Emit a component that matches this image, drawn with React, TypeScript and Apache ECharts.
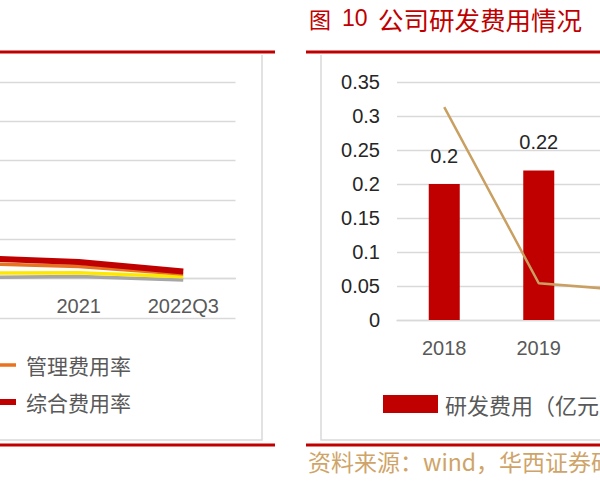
import React, { useEffect, useRef } from "react";
import * as echarts from "echarts";

// ---- data ----
const leftCategories = ["2018", "2019", "2020", "2021", "2022Q3"];
const salesRate = [2.1, 1.8, 1.45, 1.5, 0.5]; // 销售费用率 (yellow)
const financeRate = [0.2, 0.4, 0.3, 0.55, -0.35]; // 财务费用率 (gray)
const adminRate = [6.2, 5.0, 3.87, 3.1, 1.2]; // 管理费用率 (orange)
const totalRate = [8.5, 6.9, 5.26, 4.25, 1.85]; // 综合费用率 (red)

const rdCategories = ["2018", "2019", "2020", "2021", "2022Q3"];
const rdExpense = [0.2, 0.22, 0.2, 0.25, 0.2]; // 研发费用（亿元）
const rdRate = [3.13, 0.54, 0.43, 0.5, 0.6]; // 研发费用率（%）
const rdTicks = [0, 0.05, 0.1, 0.15, 0.2, 0.25, 0.3, 0.35];

const titleParts = ["图", "10", "公司研发费用情况"];
const sourceText = "资料来源：wind，华西证券研究所";

const OX = 400; // chart canvas is shifted left by this much
const CJK = "'Noto Sans CJK SC', sans-serif";
const LAT = "'Liberation Sans', Arial, sans-serif";

export default function App() {
  const ref = useRef<HTMLDivElement>(null);
  useEffect(() => {
    if (!ref.current) return;
    const chart = echarts.init(ref.current, undefined, { renderer: "svg" });
    const grid = "#D9D9D9";
    chart.setOption({
      animation: false,
      backgroundColor: "#ffffff",
      grid: [
        { left: 113, width: 522.5, top: 82, height: 236 },
        { left: OX + 397, width: 472.5, top: 82, height: 238 },
      ],
      xAxis: [
        {
          type: "category",
          gridIndex: 0,
          data: leftCategories,
          boundaryGap: true,
          offset: -39.33,
          axisLine: { show: true, onZero: false, lineStyle: { color: grid, width: 1.3 } },
          axisTick: { show: false },
          axisLabel: { fontSize: 20, color: "#595959", fontFamily: LAT, margin: 17 },
        },
        {
          type: "category",
          gridIndex: 1,
          data: rdCategories,
          boundaryGap: true,
          axisLine: { show: true, lineStyle: { color: grid, width: 1.3 } },
          axisTick: { show: false },
          axisLabel: { fontSize: 20, color: "#595959", fontFamily: LAT, margin: 18 },
        },
      ],
      yAxis: [
        {
          type: "value",
          gridIndex: 0,
          min: -10,
          max: 50,
          interval: 10,
          axisLabel: { show: false },
          axisLine: { show: false },
          axisTick: { show: false },
          splitLine: { lineStyle: { color: grid, width: 1.3 } },
        },
        {
          type: "value",
          gridIndex: 1,
          min: rdTicks[0],
          max: rdTicks[rdTicks.length - 1],
          interval: 0.05,
          axisLabel: {
            fontSize: 20,
            color: "#262626",
            fontFamily: LAT,
            margin: 17,
            formatter: (v: number) => String(+v.toFixed(2)),
          },
          axisLine: { show: false },
          axisTick: { show: false },
          splitLine: { lineStyle: { color: grid, width: 1.3 } },
        },
        {
          type: "value",
          gridIndex: 1,
          position: "right",
          min: 0,
          max: 3.5,
          interval: 0.5,
          axisLabel: { show: false },
          axisLine: { show: false },
          axisTick: { show: false },
          splitLine: { show: false },
        },
      ],
      legend: [
        {
          data: [
            { name: "管理费用率", icon: "path://M0,0H30V3.5H0Z" },
            { name: "综合费用率", icon: "path://M0,0H30V6H0Z" },
          ],
          orient: "vertical",
          left: OX - 14,
          top: 354.5,
          padding: 0,
          itemWidth: 30,
          itemHeight: 14,
          itemGap: 16,
          symbolKeepAspect: true,
          textStyle: { fontSize: 21, color: "#595959", fontFamily: CJK, padding: [0, 0, 0, 5] },
        },
        {
          data: [{ name: "研发费用（亿元）", icon: "rect" }],
          left: OX + 383,
          top: 393,
          padding: 0,
          itemWidth: 55,
          itemHeight: 18,
          textStyle: { fontSize: 22, color: "#595959", fontFamily: CJK, padding: [0, 0, 0, 2] },
        },
      ],
      series: [
        {
          name: "财务费用率",
          type: "line",
          xAxisIndex: 0,
          yAxisIndex: 0,
          data: financeRate,
          symbol: "none",
          lineStyle: { color: "#A6A6A6", width: 3.5 },
          itemStyle: { color: "#A6A6A6" },
        },
        {
          name: "销售费用率",
          type: "line",
          xAxisIndex: 0,
          yAxisIndex: 0,
          data: salesRate,
          symbol: "none",
          lineStyle: { color: "#FFE800", width: 3.5 },
          itemStyle: { color: "#FFE800" },
        },
        {
          name: "管理费用率",
          type: "line",
          xAxisIndex: 0,
          yAxisIndex: 0,
          data: adminRate,
          symbol: "none",
          lineStyle: { color: "#E8731E", width: 3.5 },
          itemStyle: { color: "#E8731E" },
        },
        {
          name: "综合费用率",
          type: "line",
          xAxisIndex: 0,
          yAxisIndex: 0,
          data: totalRate,
          symbol: "none",
          lineStyle: { color: "#C00000", width: 6 },
          itemStyle: { color: "#C00000" },
        },
        {
          name: "研发费用（亿元）",
          type: "bar",
          xAxisIndex: 1,
          yAxisIndex: 1,
          data: rdExpense,
          barWidth: 31,
          itemStyle: { color: "#C00000" },
          label: {
            show: true,
            position: "top",
            distance: 18,
            fontSize: 20,
            color: "#262626",
            fontFamily: LAT,
          },
        },
        {
          name: "研发费用率",
          type: "line",
          xAxisIndex: 1,
          yAxisIndex: 2,
          data: rdRate,
          symbol: "none",
          lineStyle: { color: "#C9A062", width: 2.5 },
          itemStyle: { color: "#C9A062" },
        },
      ],
      graphic: [
        { type: "line", shape: { x1: 0, y1: 52, x2: OX + 275, y2: 52 }, style: { stroke: "#C00000", lineWidth: 3 } },
        { type: "line", shape: { x1: OX + 306, y1: 52, x2: 1400, y2: 52 }, style: { stroke: "#C00000", lineWidth: 3 } },
        { type: "line", shape: { x1: 0, y1: 445, x2: OX + 275, y2: 445 }, style: { stroke: "#C00000", lineWidth: 3 } },
        { type: "line", shape: { x1: OX + 306, y1: 445, x2: 1400, y2: 445 }, style: { stroke: "#C00000", lineWidth: 3 } },
        {
          type: "polyline",
          shape: { points: [[0, 440], [OX + 262, 440], [OX + 262, 55]] },
          style: { stroke: "#D9D9D9", lineWidth: 1.5, fill: "none" },
        },
        {
          type: "polyline",
          shape: { points: [[OX + 321, 55], [OX + 321, 440], [1400, 440]] },
          style: { stroke: "#D9D9D9", lineWidth: 1.5, fill: "none" },
        },
        {
          type: "text",
          x: OX + 309,
          y: 18,
          style: { text: titleParts[0], fontSize: 22, fill: "#C00000", fontFamily: CJK, verticalAlign: "middle" },
        },
        {
          type: "text",
          x: OX + 342,
          y: 18,
          style: { text: titleParts[1], fontSize: 23, fill: "#C00000", fontFamily: LAT, verticalAlign: "middle" },
        },
        {
          type: "text",
          x: OX + 378,
          y: 18,
          style: { text: titleParts[2], fontSize: 25.5, fill: "#C00000", fontFamily: CJK, verticalAlign: "middle" },
        },
        {
          type: "text",
          x: OX + 308,
          y: 461,
          style: { text: sourceText, fontSize: 23, fill: "#CFA468", fontFamily: CJK, verticalAlign: "middle" },
        },
      ],
    });
    return () => chart.dispose();
  }, []);
  return (
    <div
      style={{
        position: "fixed",
        left: 0,
        top: 0,
        width: 600,
        height: 500,
        overflow: "hidden",
        background: "#fff",
      }}
    >
      <div ref={ref} style={{ position: "absolute", left: -OX, top: 0, width: 1400, height: 500 }} />
    </div>
  );
}
